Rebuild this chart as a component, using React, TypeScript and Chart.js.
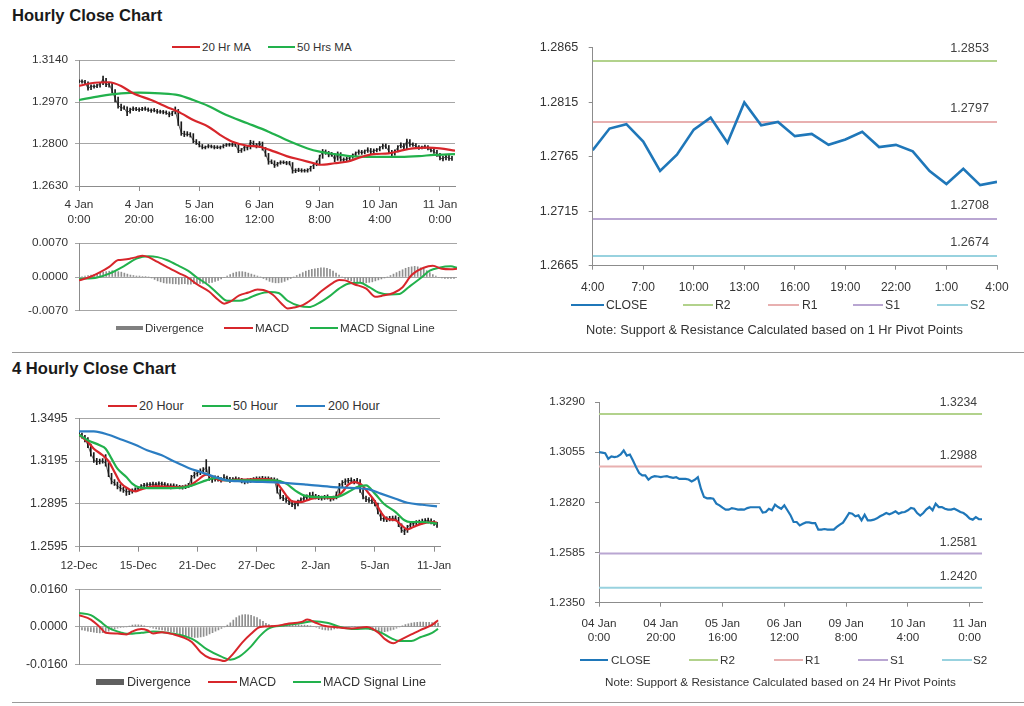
import React, { useEffect, useRef } from "react";
import { Chart, registerables } from "chart.js";

Chart.register(...registerables);

const FONT = "'Liberation Sans', Arial, Helvetica, sans-serif";
const TEXT = "#333333";
const GRID = "#a6a6a6";
const AXIS = "#8c8c8c";
const RED = "#d7262b";
const GREEN = "#22b14c";
const BLUE = "#2b7dc2";
const BAR_GRAY = "#8f8f8f";
const CLOSE_BLUE = "#1f77b9";
const LEVEL_COLORS = ["#b2d28c", "#e8b0b0", "#b9a6d2", "#98d2df"];

// ---------- Hourly (4 Jan 0:00 .. 11 Jan 4:00) ----------
const hourlyTickPos = [0, 20, 40, 60, 80, 100, 120];
const hourlyTickLabels = [["4 Jan", "0:00"], ["4 Jan", "20:00"], ["5 Jan", "16:00"], ["6 Jan", "12:00"], ["9 Jan", "8:00"], ["10 Jan", "4:00"], ["11 Jan", "0:00"]];
const hourlyTickLabels24 = [["04 Jan", "0:00"], ["04 Jan", "20:00"], ["05 Jan", "16:00"], ["06 Jan", "12:00"], ["09 Jan", "8:00"], ["10 Jan", "4:00"], ["11 Jan", "0:00"]];
const hourlyPriceTicks = [1.263, 1.28, 1.297, 1.314];
const hourlyMacdTicks = [-0.007, 0, 0.007];

const hourlyClose = [
  1.3055, 1.3053, 1.3050, 1.3024, 1.3035, 1.3032, 1.3035, 1.3044, 1.3063, 1.3039,
  1.3044, 1.3016, 1.2985, 1.2957, 1.2946, 1.2946, 1.2926, 1.2938, 1.2943, 1.2941,
  1.2938, 1.2941, 1.2943, 1.2938, 1.2935, 1.2938, 1.2930, 1.2930, 1.2930, 1.2927,
  1.2918, 1.2926, 1.2938, 1.2884, 1.2845, 1.2839, 1.2840, 1.2837, 1.2814, 1.2806,
  1.2795, 1.2786, 1.2786, 1.2793, 1.2790, 1.2786, 1.2787, 1.2786, 1.2793, 1.2797,
  1.2797, 1.2797, 1.2797, 1.2772, 1.2775, 1.2790, 1.2783, 1.2809, 1.2798, 1.2790,
  1.2806, 1.2783, 1.2760, 1.2728, 1.2728, 1.2712, 1.2720, 1.2726, 1.2726, 1.2723,
  1.2723, 1.2692, 1.2692, 1.2695, 1.2692, 1.2692, 1.2692, 1.2705, 1.2716, 1.2725,
  1.2747, 1.2770, 1.2767, 1.2755, 1.2759, 1.2736, 1.2762, 1.2736, 1.2736, 1.2739,
  1.2745, 1.2755, 1.2762, 1.2770, 1.2764, 1.2770, 1.2778, 1.2767, 1.2773, 1.2775,
  1.2783, 1.2794, 1.2790, 1.2770, 1.2758, 1.2770, 1.2787, 1.2798, 1.2783, 1.2814,
  1.2798, 1.2798, 1.2790, 1.2786, 1.2786, 1.2790, 1.2783, 1.2775, 1.2770, 1.2759,
  1.2744, 1.2739, 1.2751, 1.2741, 1.2741,
];
const hourlyLow = [
  1.3048, 1.3046, 1.3044, 1.3018, 1.3020, 1.3026, 1.3028, 1.3030, 1.3040, 1.3032,
  1.3030, 1.3008, 1.2970, 1.2945, 1.2935, 1.2940, 1.2915, 1.2925, 1.2935, 1.2935,
  1.2932, 1.2935, 1.2936, 1.2932, 1.2928, 1.2930, 1.2924, 1.2924, 1.2922, 1.2920,
  1.2910, 1.2915, 1.2922, 1.2875, 1.2835, 1.2830, 1.2832, 1.2828, 1.2805, 1.2798,
  1.2788, 1.2780, 1.2780, 1.2784, 1.2784, 1.2780, 1.2781, 1.2780, 1.2784, 1.2790,
  1.2791, 1.2790, 1.2790, 1.2765, 1.2766, 1.2772, 1.2776, 1.2780, 1.2792, 1.2784,
  1.2786, 1.2775, 1.2750, 1.2718, 1.2720, 1.2705, 1.2710, 1.2718, 1.2720, 1.2716,
  1.2715, 1.2682, 1.2684, 1.2688, 1.2686, 1.2686, 1.2686, 1.2690, 1.2700, 1.2712,
  1.2720, 1.2742, 1.2758, 1.2748, 1.2750, 1.2728, 1.2734, 1.2730, 1.2728, 1.2732,
  1.2736, 1.2742, 1.2750, 1.2758, 1.2758, 1.2760, 1.2766, 1.2760, 1.2762, 1.2768,
  1.2772, 1.2780, 1.2782, 1.2762, 1.2750, 1.2755, 1.2768, 1.2784, 1.2776, 1.2780,
  1.2790, 1.2790, 1.2783, 1.2778, 1.2780, 1.2782, 1.2776, 1.2768, 1.2762, 1.2750,
  1.2736, 1.2732, 1.2736, 1.2734, 1.2734,
];
const hourlyHigh = [
  1.3060, 1.3060, 1.3058, 1.3052, 1.3040, 1.3040, 1.3042, 1.3050, 1.3075, 1.3066,
  1.3050, 1.3046, 1.3020, 1.2990, 1.2962, 1.2955, 1.2950, 1.2945, 1.2950, 1.2948,
  1.2946, 1.2948, 1.2950, 1.2946, 1.2942, 1.2944, 1.2940, 1.2937, 1.2936, 1.2934,
  1.2930, 1.2932, 1.2950, 1.2940, 1.2890, 1.2852, 1.2850, 1.2846, 1.2842, 1.2818,
  1.2810, 1.2798, 1.2792, 1.2798, 1.2796, 1.2794, 1.2793, 1.2792, 1.2798, 1.2802,
  1.2803, 1.2803, 1.2804, 1.2800, 1.2782, 1.2795, 1.2794, 1.2815, 1.2812, 1.2802,
  1.2810, 1.2808, 1.2786, 1.2762, 1.2736, 1.2732, 1.2726, 1.2732, 1.2732, 1.2730,
  1.2730, 1.2725, 1.2700, 1.2702, 1.2700, 1.2698, 1.2700, 1.2710, 1.2722, 1.2732,
  1.2755, 1.2778, 1.2776, 1.2770, 1.2766, 1.2762, 1.2768, 1.2765, 1.2744, 1.2746,
  1.2750, 1.2760, 1.2768, 1.2776, 1.2774, 1.2776, 1.2785, 1.2782, 1.2780, 1.2782,
  1.2790, 1.2800, 1.2800, 1.2794, 1.2774, 1.2776, 1.2794, 1.2805, 1.2802, 1.2820,
  1.2818, 1.2805, 1.2802, 1.2794, 1.2792, 1.2796, 1.2794, 1.2786, 1.2778, 1.2774,
  1.2762, 1.2750, 1.2758, 1.2754, 1.2750,
];
const ma20HrX = [0, 4, 10, 14, 18, 24, 29, 34, 38, 43, 47, 51, 56, 60, 65, 69, 74, 79, 80, 85, 89, 94, 98, 103, 107, 111, 116, 120, 125];
const ma20HrY = [1.3035, 1.3046, 1.3050, 1.3035, 1.3005, 1.2978, 1.2951, 1.2924, 1.2897, 1.2870, 1.2836, 1.2809, 1.2793, 1.2789, 1.2769, 1.2751, 1.2735, 1.2719, 1.2716, 1.2722, 1.2728, 1.2748, 1.2759, 1.2762, 1.2773, 1.2782, 1.2785, 1.2782, 1.2773];
const ma50HrX = [0, 7, 14, 20, 27, 33, 38, 43, 49, 56, 63, 69, 76, 80, 85, 90, 96, 101, 107, 113, 118, 125];
const ma50HrY = [1.2978, 1.2994, 1.3005, 1.3008, 1.3005, 1.2998, 1.2978, 1.2954, 1.2917, 1.2884, 1.2850, 1.2816, 1.2782, 1.2769, 1.2759, 1.2751, 1.2748, 1.2748, 1.2748, 1.2751, 1.2756, 1.2759];

const hourlyMacdX = [0, 4, 7, 10, 13, 15, 17, 19, 21, 23, 26, 29, 33, 36, 39, 43, 46, 48, 50, 53, 56, 59, 61, 64, 67, 69, 71, 74, 77, 80, 84, 86, 88, 91, 95, 98, 100, 104, 107, 110, 114, 117, 120, 123, 125];
const hourlyMacdY = [-0.0007, 0.0001, 0.0010, 0.0021, 0.0035, 0.0036, 0.0038, 0.0041, 0.0044, 0.0041, 0.0031, 0.0021, 0.0008, -0.0001, -0.0015, -0.0030, -0.0047, -0.0055, -0.0051, -0.0038, -0.0032, -0.0026, -0.0027, -0.0036, -0.0055, -0.0065, -0.0063, -0.0058, -0.0046, -0.0030, -0.0012, -0.0006, -0.0007, -0.0015, -0.0024, -0.0041, -0.0039, -0.0033, -0.0021, 0.0004, 0.0019, 0.0023, 0.0017, 0.0016, 0.0017];
const hourlySignalX = [0, 6, 10, 15, 19, 23, 26, 29, 33, 36, 39, 43, 46, 49, 53, 56, 59, 63, 66, 69, 73, 76, 79, 83, 86, 89, 93, 96, 99, 103, 106, 109, 113, 116, 119, 123, 125];
const hourlySignalY = [-0.0004, -0.0001, 0.0007, 0.0023, 0.0038, 0.0043, 0.0041, 0.0035, 0.0023, 0.0013, -0.0001, -0.0018, -0.0035, -0.0049, -0.0049, -0.0044, -0.0036, -0.0031, -0.0033, -0.0049, -0.0060, -0.0062, -0.0055, -0.0039, -0.0024, -0.0014, -0.0012, -0.0021, -0.0032, -0.0036, -0.0035, -0.0021, -0.0002, 0.0013, 0.0019, 0.0022, 0.0019];
const hourlyDiv = [
  0, 0.0001, 0.0002, 0.0003, 0.0004, 0.0005, 0.0007, 0.0009, 0.0010, 0.0011,
  0.0012, 0.0013, 0.0012, 0.0011, 0.0010, 0.0008, 0.0006, 0.0004, 0.0003, 0.0002,
  0.0002, 0.0001, 0.0001, 0.0000, -0.0002, -0.0005, -0.0008, -0.0010, -0.0012, -0.0013,
  -0.0013, -0.0014, -0.0014, -0.0015, -0.0014, -0.0014, -0.0015, -0.0015, -0.0014, -0.0014,
  -0.0013, -0.0013, -0.0012, -0.0012, -0.0011, -0.0009, -0.0007, -0.0004, -0.0001, 0.0002,
  0.0005, 0.0008, 0.0010, 0.0011, 0.0011, 0.0010, 0.0008, 0.0006, 0.0004, 0.0002,
  0.0000, -0.0003, -0.0006, -0.0009, -0.0011, -0.0012, -0.0012, -0.0011, -0.0009, -0.0006,
  -0.0003, 0.0000, 0.0003, 0.0006, 0.0009, 0.0012, 0.0014, 0.0016, 0.0017, 0.0018,
  0.0019, 0.0019, 0.0018, 0.0016, 0.0012, 0.0008, 0.0004, 0.0000, -0.0003, -0.0006,
  -0.0008, -0.0010, -0.0011, -0.0012, -0.0012, -0.0012, -0.0011, -0.0010, -0.0008, -0.0006,
  -0.0004, -0.0002, 0.0000, 0.0003, 0.0006, 0.0009, 0.0012, 0.0015, 0.0018, 0.0020,
  0.0021, 0.0022, 0.0021, 0.0019, 0.0017, 0.0013, 0.0009, 0.0005, 0.0002, -0.0001,
  -0.0002, -0.0003, -0.0003, -0.0003, -0.0003,
];

// ---------- Last 24 hours, 1 Hr pivots ----------
const oneHourTickPos = [0, 3, 6, 9, 12, 15, 18, 21, 24];
const oneHourTickLabels = ["4:00", "7:00", "10:00", "13:00", "16:00", "19:00", "22:00", "1:00", "4:00"];
const oneHourPriceTicks = [1.2665, 1.2715, 1.2765, 1.2815, 1.2865];
const close1h = [1.2771, 1.2791, 1.2795, 1.2779, 1.2752, 1.2767, 1.2790, 1.2801, 1.2778, 1.2815, 1.2794, 1.2797, 1.2784, 1.2786, 1.2776, 1.2781, 1.2788, 1.2774, 1.2776, 1.2770, 1.2752, 1.2740, 1.2754, 1.2739, 1.2742];
const levelNames = ["R2", "R1", "S1", "S2"];
const levels1h = [1.2853, 1.2797, 1.2708, 1.2674];

// ---------- 24 Hr pivots ----------
const dayPriceTicks = [1.235, 1.2585, 1.282, 1.3055, 1.329];
const levels24h = [1.3234, 1.2988, 1.2581, 1.242];

// ---------- 4 Hourly ----------
const fourTickPos = [0, 20, 40, 60, 80, 100, 120];
const fourTickLabels = ["12-Dec", "15-Dec", "21-Dec", "27-Dec", "2-Jan", "5-Jan", "11-Jan"];
const fourPriceTicks = [1.2595, 1.2895, 1.3195, 1.3495];
const fourMacdTicks = [-0.016, 0, 0.016];
const fourClose = [
  1.3385, 1.3370, 1.3352, 1.3306, 1.3247, 1.3205, 1.3189, 1.3194, 1.3196, 1.3180,
  1.3100, 1.3055, 1.3040, 1.3020, 1.3005, 1.2997, 1.2978, 1.2983, 1.2987, 1.2995,
  1.3006, 1.3018, 1.3025, 1.3028, 1.3030, 1.3034, 1.3030, 1.3037, 1.3034, 1.3030,
  1.3022, 1.3020, 1.3022, 1.3015, 1.3013, 1.3010, 1.3015, 1.3022, 1.3080, 1.3100,
  1.3112, 1.3120, 1.3130, 1.3150, 1.3075, 1.3062, 1.3077, 1.3070, 1.3062, 1.3080,
  1.3075, 1.3062, 1.3068, 1.3072, 1.3066, 1.3060, 1.3050, 1.3055, 1.3060, 1.3066,
  1.3072, 1.3072, 1.3075, 1.3070, 1.3072, 1.3068, 1.3065, 1.2985, 1.2945, 1.2935,
  1.2925, 1.2910, 1.2895, 1.2885, 1.2910, 1.2925, 1.2935, 1.2943, 1.2950, 1.2955,
  1.2945, 1.2940, 1.2936, 1.2940, 1.2943, 1.2930, 1.2935, 1.2965, 1.3020, 1.3040,
  1.3053, 1.3058, 1.3060, 1.3050, 1.3060, 1.2990, 1.2945, 1.2927, 1.2922, 1.2915,
  1.2896, 1.2840, 1.2795, 1.2790, 1.2787, 1.2790, 1.2792, 1.2796, 1.2750, 1.2712,
  1.2700, 1.2730, 1.2752, 1.2758, 1.2764, 1.2768, 1.2772, 1.2776, 1.2780, 1.2770,
  1.2760, 1.2745,
];
const fourLow = [
  1.3370, 1.3355, 1.3330, 1.3290, 1.3230, 1.3185, 1.3170, 1.3175, 1.3180, 1.3160,
  1.3085, 1.3035, 1.3025, 1.3000, 1.2985, 1.2975, 1.2955, 1.2960, 1.2970, 1.2980,
  1.2990, 1.3000, 1.3010, 1.3015, 1.3018, 1.3020, 1.3018, 1.3022, 1.3020, 1.3015,
  1.3008, 1.3000, 1.3010, 1.3002, 1.3000, 1.2998, 1.3002, 1.3008, 1.3020, 1.3075,
  1.3090, 1.3100, 1.3110, 1.3120, 1.3060, 1.3045, 1.3055, 1.3055, 1.3048, 1.3060,
  1.3060, 1.3045, 1.3052, 1.3058, 1.3052, 1.3042, 1.3035, 1.3040, 1.3045, 1.3052,
  1.3058, 1.3060, 1.3062, 1.3058, 1.3060, 1.3055, 1.3050, 1.2970, 1.2930, 1.2918,
  1.2905, 1.2890, 1.2875, 1.2860, 1.2880, 1.2905, 1.2918, 1.2925, 1.2932, 1.2935,
  1.2930, 1.2925, 1.2922, 1.2926, 1.2928, 1.2915, 1.2922, 1.2930, 1.2960, 1.3015,
  1.3030, 1.3040, 1.3042, 1.3035, 1.3040, 1.2975, 1.2930, 1.2910, 1.2905, 1.2898,
  1.2880, 1.2825, 1.2780, 1.2772, 1.2770, 1.2775, 1.2775, 1.2778, 1.2735, 1.2695,
  1.2680, 1.2695, 1.2725, 1.2740, 1.2748, 1.2752, 1.2755, 1.2760, 1.2762, 1.2755,
  1.2745, 1.2730,
];
const fourHigh = [
  1.3400, 1.3392, 1.3375, 1.3360, 1.3315, 1.3255, 1.3215, 1.3210, 1.3212, 1.3240,
  1.3185, 1.3110, 1.3065, 1.3048, 1.3030, 1.3012, 1.3005, 1.2995, 1.3000, 1.3008,
  1.3018, 1.3030, 1.3040, 1.3042, 1.3045, 1.3048, 1.3045, 1.3050, 1.3048, 1.3045,
  1.3038, 1.3035, 1.3036, 1.3030, 1.3026, 1.3024, 1.3028, 1.3040, 1.3095, 1.3118,
  1.3130, 1.3140, 1.3150, 1.3205, 1.3155, 1.3085, 1.3092, 1.3090, 1.3080, 1.3100,
  1.3090, 1.3082, 1.3080, 1.3085, 1.3080, 1.3075, 1.3068, 1.3070, 1.3075, 1.3080,
  1.3085, 1.3085, 1.3088, 1.3084, 1.3085, 1.3080, 1.3078, 1.3070, 1.2995, 1.2955,
  1.2945, 1.2930, 1.2918, 1.2905, 1.2922, 1.2938, 1.2948, 1.2958, 1.2975, 1.2978,
  1.2962, 1.2955, 1.2950, 1.2955, 1.2958, 1.2948, 1.2950, 1.2980, 1.3040, 1.3058,
  1.3070, 1.3075, 1.3078, 1.3068, 1.3075, 1.3065, 1.2995, 1.2950, 1.2940, 1.2932,
  1.2920, 1.2900, 1.2845, 1.2808, 1.2805, 1.2808, 1.2810, 1.2812, 1.2800, 1.2755,
  1.2720, 1.2745, 1.2765, 1.2772, 1.2778, 1.2782, 1.2788, 1.2792, 1.2795, 1.2790,
  1.2778, 1.2765,
];
const ma20HourX = [0, 3, 5, 8, 10, 12, 14, 17, 19, 21, 26, 32, 37, 40, 43, 45, 48, 55, 62, 66, 68, 70, 72, 75, 78, 82, 86, 89, 91, 93, 95, 98, 100, 102, 104, 107, 109, 111, 113, 116, 119, 121];
const ma20HourY = [1.3380, 1.3329, 1.3282, 1.3236, 1.3194, 1.3119, 1.3044, 1.2997, 1.2983, 1.2997, 1.3020, 1.3013, 1.3020, 1.3060, 1.3100, 1.3084, 1.3060, 1.3065, 1.3068, 1.3060, 1.3013, 1.2955, 1.2913, 1.2908, 1.2927, 1.2943, 1.2936, 1.2978, 1.3030, 1.3048, 1.3037, 1.2967, 1.2913, 1.2838, 1.2791, 1.2780, 1.2745, 1.2717, 1.2733, 1.2757, 1.2768, 1.2764];
const ma50HourX = [0, 3, 7, 9, 11, 13, 16, 18, 20, 25, 30, 36, 39, 43, 46, 50, 61, 66, 70, 73, 76, 81, 87, 91, 94, 97, 100, 103, 107, 110, 112, 116, 121];
const ma50HourY = [1.3380, 1.3341, 1.3306, 1.3282, 1.3212, 1.3142, 1.3084, 1.3037, 1.3013, 1.3006, 1.3006, 1.3013, 1.3030, 1.3060, 1.3077, 1.3060, 1.3060, 1.3060, 1.3037, 1.2990, 1.2955, 1.2943, 1.2943, 1.2978, 1.3013, 1.3025, 1.2967, 1.2896, 1.2838, 1.2780, 1.2768, 1.2768, 1.2757];
const ma200HourX = [0, 5, 10, 14, 19, 23, 28, 32, 37, 41, 46, 50, 55, 60, 68, 77, 86, 93, 98, 102, 107, 111, 116, 121];
const ma200HourY = [1.3404, 1.3404, 1.3380, 1.3348, 1.3310, 1.3271, 1.3236, 1.3194, 1.3147, 1.3119, 1.3084, 1.3060, 1.3053, 1.3050, 1.3044, 1.3030, 1.3013, 1.3006, 1.2997, 1.2967, 1.2931, 1.2903, 1.2889, 1.2878];

const fourMacdX = [0, 4, 7, 9, 13, 16, 18, 21, 23, 25, 28, 32, 35, 38, 41, 44, 47, 49, 52, 55, 58, 61, 66, 70, 75, 77, 80, 83, 86, 92, 97, 101, 103, 106, 108, 112, 115, 119, 121];
const fourMacdY = [0.0051, 0.0032, 0.0000, -0.0025, -0.0028, -0.0032, -0.0019, -0.0009, -0.0014, -0.0028, -0.0022, -0.0032, -0.0044, -0.0064, -0.0108, -0.0133, -0.0140, -0.0146, -0.0114, -0.0067, -0.0029, 0.0000, 0.0004, 0.0013, 0.0022, 0.0032, 0.0017, 0.0004, 0.0000, -0.0006, 0.0000, -0.0025, -0.0051, -0.0070, -0.0057, -0.0032, -0.0013, 0.0009, 0.0029];
const fourSignalX = [0, 4, 7, 10, 14, 16, 21, 25, 30, 34, 39, 43, 48, 51, 54, 58, 61, 64, 69, 75, 79, 84, 88, 93, 97, 102, 105, 108, 112, 115, 119, 121];
const fourSignalY = [0.0060, 0.0051, 0.0025, -0.0004, -0.0023, -0.0029, -0.0025, -0.0019, -0.0025, -0.0034, -0.0057, -0.0095, -0.0127, -0.0140, -0.0127, -0.0083, -0.0038, -0.0006, 0.0006, 0.0017, 0.0025, 0.0017, 0.0000, -0.0009, -0.0006, -0.0025, -0.0047, -0.0060, -0.0060, -0.0044, -0.0025, -0.0008];
const fourDiv = [
  -0.0009, -0.0012, -0.0015, -0.0018, -0.0020, -0.0022, -0.0024, -0.0025, -0.0024, -0.0022,
  -0.0018, -0.0012, -0.0008, -0.0005, -0.0003, -0.0002, 0.0000, 0.0004, 0.0008, 0.0009,
  0.0009, 0.0008, 0.0005, 0.0002, -0.0002, -0.0005, -0.0008, -0.0010, -0.0012, -0.0015,
  -0.0018, -0.0020, -0.0022, -0.0026, -0.0030, -0.0034, -0.0038, -0.0042, -0.0044, -0.0045,
  -0.0045, -0.0043, -0.0040, -0.0036, -0.0030, -0.0024, -0.0018, -0.0012, -0.0006, 0.0000,
  0.0008, 0.0018, 0.0030, 0.0040, 0.0048, 0.0052, 0.0053, 0.0052, 0.0050, 0.0045,
  0.0040, 0.0032, 0.0024, 0.0016, 0.0010, 0.0006, 0.0004, 0.0004, 0.0006, 0.0008,
  0.0008, 0.0009, 0.0010, 0.0010, 0.0009, 0.0008, 0.0008, 0.0007, 0.0005, 0.0002,
  -0.0002, -0.0006, -0.0010, -0.0013, -0.0014, -0.0012, -0.0008, -0.0005, -0.0003, -0.0002,
  -0.0001, 0.0000, 0.0001, 0.0001, 0.0000, -0.0002, -0.0005, -0.0008, -0.0011, -0.0014,
  -0.0017, -0.0019, -0.0020, -0.0020, -0.0018, -0.0014, -0.0010, -0.0005, 0.0000, 0.0005,
  0.0010, 0.0014, 0.0017, 0.0019, 0.0020, 0.0021, 0.0021, 0.0020, 0.0020, 0.0019,
  0.0018, 0.0017,
];

// ---------- helpers ----------
type AnyObj = any;

function xAxis(min: number, max: number, pos: number[], labels: AnyObj[], o: AnyObj) {
  return {
    type: "linear",
    min,
    max,
    offset: false,
    display: o.display === false ? false : true,
    afterBuildTicks: (s: AnyObj) => {
      s.ticks = pos.map((v) => ({ value: v }));
    },
    afterFit: (s: AnyObj) => {
      if (o.height !== undefined) s.height = o.height;
    },
    ticks: {
      autoSkip: false,
      maxRotation: 0,
      minRotation: 0,
      padding: o.padding || 0,
      color: TEXT,
      font: { family: FONT, size: o.size || 12, lineHeight: o.lh || 1.2 },
      callback: (v: number) => {
        const k = pos.indexOf(v);
        return k >= 0 ? labels[k] : "";
      },
    },
    grid: { display: true, drawOnChartArea: false, drawTicks: true, tickLength: o.tl || 4, color: AXIS, offset: false },
    border: { display: true, color: AXIS },
  };
}

function yAxis(min: number, max: number, ticks: number[], o: AnyObj) {
  return {
    type: "linear",
    min,
    max,
    afterBuildTicks: (s: AnyObj) => {
      s.ticks = ticks.map((v) => ({ value: v }));
    },
    afterFit: (s: AnyObj) => {
      s.width = o.width;
    },
    ticks: {
      padding: o.padding,
      color: TEXT,
      font: { family: FONT, size: o.size },
      callback: (v: number) => Number(v).toFixed(4),
    },
    grid: { drawOnChartArea: !!o.grid, drawTicks: true, tickLength: 4, color: o.grid ? GRID : AXIS },
    border: { display: true, color: AXIS },
  };
}

function baseOptions(padding: AnyObj, scales: AnyObj) {
  return {
    responsive: false,
    maintainAspectRatio: false,
    animation: false,
    events: [],
    layout: { padding },
    plugins: { legend: { display: false }, tooltip: { enabled: false }, title: { display: false } },
    scales,
  };
}

function lineDs(xs: number[], ys: number[], color: string, width: number, order = 1) {
  return {
    type: "line",
    data: xs.map((x, i) => ({ x, y: ys[i] })),
    borderColor: color,
    borderWidth: width,
    pointRadius: 0,
    cubicInterpolationMode: "monotone",
    fill: false,
    order,
  };
}

function seriesDs(ys: number[], color: string, width: number, order = 1) {
  return {
    type: "line",
    data: ys.map((y, i) => ({ x: i, y })),
    borderColor: color,
    borderWidth: width,
    pointRadius: 0,
    tension: 0,
    fill: false,
    order,
  };
}

function rangeBars(lows: number[], highs: number[], color: string, thickness: number) {
  return {
    type: "bar",
    data: lows.map((lo, i) => ({ x: i, y: [lo, highs[i]] })),
    backgroundColor: color,
    barThickness: thickness,
    borderWidth: 0,
    order: 3,
  };
}

function valueBars(vals: number[], color: string, thickness: number) {
  return {
    type: "bar",
    data: vals.map((v, i) => ({ x: i, y: v })),
    backgroundColor: color,
    barThickness: thickness,
    borderWidth: 0,
    order: 3,
  };
}

function levelDs(values: number[], xMin: number, xMax: number) {
  return values.map((v, k) => ({
    type: "line",
    label: levelNames[k],
    data: [
      { x: xMin, y: v },
      { x: xMax, y: v },
    ],
    borderColor: LEVEL_COLORS[k],
    borderWidth: 2,
    pointRadius: 0,
    fill: false,
    order: 2,
  }));
}

function levelLabelPlugin(values: number[], rightGap: number, above: number, size: number) {
  return {
    id: "levelLabels",
    afterDatasetsDraw(chart: AnyObj) {
      const { ctx, chartArea, scales } = chart;
      ctx.save();
      ctx.font = `${size}px ${FONT}`;
      ctx.fillStyle = "#404040";
      ctx.textAlign = "right";
      ctx.textBaseline = "middle";
      values.forEach((v) => {
        const y = scales.y.getPixelForValue(v);
        ctx.fillText(v.toFixed(4), chartArea.right - rightGap, y - above);
      });
      ctx.restore();
    },
  };
}

// ---------- chart configs ----------
const buildHourlyPrice = () => ({
  type: "line",
  data: {
    datasets: [
      lineDs(ma20HrX, ma20HrY, RED, 2.2),
      lineDs(ma50HrX, ma50HrY, GREEN, 2.2),
      seriesDs(hourlyClose, "#1a1a1a", 0.7, 2),
      rangeBars(hourlyLow, hourlyHigh, "#1a1a1a", 1),
    ],
  },
  options: baseOptions(
    { left: 0, right: 15, top: 20, bottom: 0 },
    {
      x: xAxis(0, 125, hourlyTickPos, hourlyTickLabels, { height: 44, padding: 6.5, size: 11.8, lh: 1.27, tl: 5 }),
      y: yAxis(1.263, 1.314, hourlyPriceTicks, { width: 79, padding: 7, size: 11.8, grid: true }),
    }
  ),
});

const buildHourlyMacd = () => ({
  type: "line",
  data: {
    datasets: [
      lineDs(hourlyMacdX, hourlyMacdY, RED, 2),
      lineDs(hourlySignalX, hourlySignalY, GREEN, 2),
      valueBars(hourlyDiv, BAR_GRAY, 1),
    ],
  },
  options: baseOptions(
    { left: 0, right: 13, top: 10.3, bottom: 10 },
    {
      x: xAxis(0, 125, hourlyTickPos, hourlyTickLabels, { display: false }),
      y: yAxis(-0.007, 0.007, hourlyMacdTicks, { width: 79, padding: 7, size: 11.8, grid: true }),
    }
  ),
});

const buildOneHour = () => ({
  type: "line",
  data: {
    datasets: [...levelDs(levels1h, 0, 24), seriesDs(close1h, CLOSE_BLUE, 2.6, 1)],
  },
  options: baseOptions(
    { left: 0, right: 27, top: 16.7, bottom: 0 },
    {
      x: xAxis(0, 24, oneHourTickPos, oneHourTickLabels, { height: 44.3, padding: 10.4, size: 12, lh: 1.2, tl: 4 }),
      y: yAxis(1.2665, 1.2865, oneHourPriceTicks, { width: 72.7, padding: 10.4, size: 12.6, grid: false }),
    }
  ),
  plugins: [levelLabelPlugin(levels1h, 8, 13, 12.7)],
});

const buildFourPrice = () => ({
  type: "line",
  data: {
    datasets: [
      lineDs(ma200HourX, ma200HourY, BLUE, 2.2),
      lineDs(ma50HourX, ma50HourY, GREEN, 2.2),
      lineDs(ma20HourX, ma20HourY, RED, 2.2),
      seriesDs(fourClose, "#1a1a1a", 0.7, 2),
      rangeBars(fourLow, fourHigh, "#1a1a1a", 1),
    ],
  },
  options: baseOptions(
    { left: 0, right: 30, top: 18.3, bottom: 0 },
    {
      x: xAxis(0, 122, fourTickPos, fourTickLabels, { height: 33.3, padding: 7, size: 11.5, lh: 1.2, tl: 5 }),
      y: yAxis(1.2595, 1.3495, fourPriceTicks, { width: 79, padding: 7.3, size: 12.3, grid: true }),
    }
  ),
});

const buildFourMacd = () => ({
  type: "line",
  data: {
    datasets: [
      lineDs(fourMacdX, fourMacdY, RED, 2),
      lineDs(fourSignalX, fourSignalY, GREEN, 2),
      valueBars(fourDiv, BAR_GRAY, 1),
    ],
  },
  options: baseOptions(
    { left: 0, right: 29, top: 10, bottom: 10 },
    {
      x: xAxis(0, 122, fourTickPos, fourTickLabels, { display: false }),
      y: yAxis(-0.016, 0.016, fourMacdTicks, { width: 79, padding: 7.3, size: 12.3, grid: true }),
    }
  ),
});

const buildDay = () => ({
  type: "line",
  data: {
    datasets: [...levelDs(levels24h, 0, 124), seriesDs(hourlyClose, CLOSE_BLUE, 2.2, 1)],
  },
  options: baseOptions(
    { left: 0, right: 42, top: 16.7, bottom: 0 },
    {
      x: xAxis(0, 124, hourlyTickPos, hourlyTickLabels24, { height: 52.3, padding: 10.6, size: 11.7, lh: 1.14, tl: 4 }),
      y: yAxis(1.235, 1.329, dayPriceTicks, { width: 79, padding: 10, size: 11.7, grid: false }),
    }
  ),
  plugins: [levelLabelPlugin(levels24h, 5, 11, 12.2)],
});

// ---------- components ----------
function ChartBox({ left, top, width, height, build }: { left: number; top: number; width: number; height: number; build: () => AnyObj }) {
  const ref = useRef<HTMLCanvasElement | null>(null);
  useEffect(() => {
    if (!ref.current) return;
    const chart = new Chart(ref.current, build());
    return () => chart.destroy();
  }, []);
  return <canvas ref={ref} width={width} height={height} style={{ position: "absolute", left, top, width, height }} />;
}

function Txt({ x, y, size, children, bold, color }: { x: number; y: number; size: number; children: React.ReactNode; bold?: boolean; color?: string }) {
  const lh = Math.round(size * 1.2);
  return (
    <div
      style={{
        position: "absolute",
        left: x,
        top: y - lh / 2,
        fontFamily: FONT,
        fontSize: size,
        lineHeight: `${lh}px`,
        fontWeight: bold ? 700 : 400,
        color: color || TEXT,
        whiteSpace: "nowrap",
      }}
    >
      {children}
    </div>
  );
}

function Swatch({ x1, x2, y, h, color }: { x1: number; x2: number; y: number; h: number; color: string }) {
  return <div style={{ position: "absolute", left: x1, top: y - h / 2, width: x2 - x1, height: h, background: color }} />;
}

function Rule({ y, x1, x2 }: { y: number; x1: number; x2: number }) {
  return <div style={{ position: "absolute", left: x1, top: y, width: x2 - x1, height: 1, background: "#9a9a9a" }} />;
}

export default function App() {
  return (
    <div style={{ position: "fixed", left: 0, top: 0, width: 1024, height: 706, background: "#ffffff", overflow: "hidden" }}>
      <Txt x={12} y={16} size={16.6} bold color="#1a1a1a">Hourly Close Chart</Txt>
      <Txt x={12} y={369} size={16.6} bold color="#1a1a1a">4 Hourly Close Chart</Txt>
      <Rule y={352} x1={12} x2={1024} />
      <Rule y={702} x1={12} x2={1024} />

      {/* Hourly price */}
      <Swatch x1={172} x2={200} y={46.5} h={2} color={RED} />
      <Txt x={202} y={46.5} size={11.6}>20 Hr MA</Txt>
      <Swatch x1={268} x2={295} y={46.5} h={2} color={GREEN} />
      <Txt x={297} y={46.5} size={11.6}>50 Hrs MA</Txt>
      <ChartBox left={0} top={40} width={470} height={190} build={buildHourlyPrice} />

      {/* Hourly MACD */}
      <ChartBox left={0} top={229} width={470} height={96} build={buildHourlyMacd} />
      <Swatch x1={116} x2={143} y={327.5} h={4} color="#808080" />
      <Txt x={145} y={327.5} size={11.6}>Divergence</Txt>
      <Swatch x1={224} x2={253} y={327.5} h={2} color={RED} />
      <Txt x={255} y={327.5} size={11.6}>MACD</Txt>
      <Swatch x1={310} x2={338} y={327.5} h={2} color={GREEN} />
      <Txt x={340} y={327.5} size={11.6}>MACD Signal Line</Txt>

      {/* 1 Hr pivots */}
      <ChartBox left={520} top={30} width={504} height={280} build={buildOneHour} />
      <Swatch x1={571} x2={604} y={305} h={2} color={CLOSE_BLUE} />
      <Txt x={606} y={305} size={12.2}>CLOSE</Txt>
      <Swatch x1={683} x2={713} y={305} h={1.5} color={LEVEL_COLORS[0]} />
      <Txt x={715} y={305} size={12.2}>R2</Txt>
      <Swatch x1={768} x2={799} y={305} h={1.5} color={LEVEL_COLORS[1]} />
      <Txt x={802} y={305} size={12.2}>R1</Txt>
      <Swatch x1={853} x2={883} y={305} h={1.5} color={LEVEL_COLORS[2]} />
      <Txt x={885} y={305} size={12.2}>S1</Txt>
      <Swatch x1={937} x2={968} y={305} h={1.5} color={LEVEL_COLORS[3]} />
      <Txt x={970} y={305} size={12.2}>S2</Txt>
      <Txt x={586} y={329.5} size={12.8}>Note: Support &amp; Resistance Calculated based on 1 Hr Pivot Points</Txt>

      {/* 4 hourly price */}
      <Swatch x1={108} x2={137} y={406} h={2} color={RED} />
      <Txt x={139} y={406} size={12.6}>20 Hour</Txt>
      <Swatch x1={202} x2={231} y={406} h={2} color={GREEN} />
      <Txt x={233} y={406} size={12.6}>50 Hour</Txt>
      <Swatch x1={296} x2={325} y={406} h={2} color={BLUE} />
      <Txt x={328} y={406} size={12.6}>200 Hour</Txt>
      <ChartBox left={0} top={400} width={470} height={180} build={buildFourPrice} />

      {/* 4 hourly MACD */}
      <ChartBox left={0} top={575} width={470} height={104} build={buildFourMacd} />
      <Swatch x1={96} x2={124} y={682.3} h={6} color="#606060" />
      <Txt x={127} y={682.3} size={12.6}>Divergence</Txt>
      <Swatch x1={208} x2={237} y={682.3} h={2} color={RED} />
      <Txt x={239} y={682.3} size={12.6}>MACD</Txt>
      <Swatch x1={293} x2={321} y={682.3} h={2} color={GREEN} />
      <Txt x={323} y={682.3} size={12.6}>MACD Signal Line</Txt>

      {/* 24 Hr pivots */}
      <ChartBox left={520} top={385} width={504} height={270} build={buildDay} />
      <Swatch x1={580} x2={608} y={660} h={2} color={CLOSE_BLUE} />
      <Txt x={611} y={660} size={11.7}>CLOSE</Txt>
      <Swatch x1={689} x2={718} y={660} h={1.5} color={LEVEL_COLORS[0]} />
      <Txt x={720} y={660} size={11.7}>R2</Txt>
      <Swatch x1={774} x2={803} y={660} h={1.5} color={LEVEL_COLORS[1]} />
      <Txt x={805} y={660} size={11.7}>R1</Txt>
      <Swatch x1={858} x2={888} y={660} h={1.5} color={LEVEL_COLORS[2]} />
      <Txt x={890} y={660} size={11.7}>S1</Txt>
      <Swatch x1={942} x2={972} y={660} h={1.5} color={LEVEL_COLORS[3]} />
      <Txt x={973} y={660} size={11.7}>S2</Txt>
      <Txt x={605} y={681.7} size={11.7}>Note: Support &amp; Resistance Calculated based on 24 Hr Pivot Points</Txt>
    </div>
  );
}
